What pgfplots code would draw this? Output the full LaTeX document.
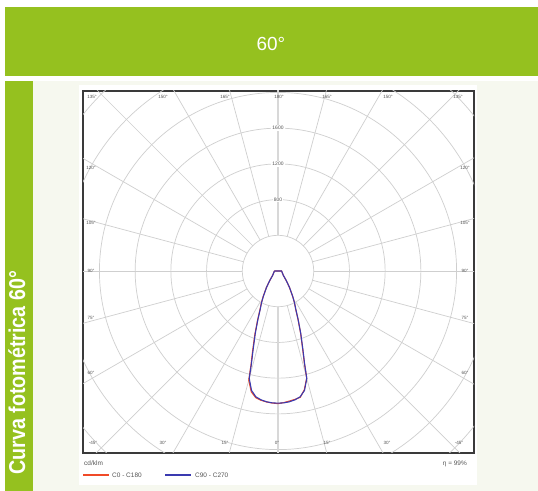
\documentclass[border=0pt]{standalone}
\usepackage{fontspec}
\setmainfont{Liberation Sans}
\usepackage{pgfplots}
\usepackage{pgfplotstable}
\pgfplotsset{compat=1.18}

\definecolor{bannergreen}{HTML}{95C11F}
\definecolor{panelbg}{HTML}{F6F8EF}
\definecolor{boxgray}{HTML}{3A3A3A}
\definecolor{gridgray}{HTML}{CFCFCF}
\definecolor{labelgray}{HTML}{555555}
\definecolor{redc}{HTML}{F04A28}
\definecolor{bluec}{HTML}{3A3AB0}

% angle from nadir (deg), intensity in cd/klm
\pgfplotstableread{
a      red    blue
-90    40     40
-80    44     44
-70    50     50
-60    61     60
-50    81     80
-45    106    105
-40    152    150
-35    228    225
-30    335    330
-27.5  405    400
-25    478    470
-22.5  600    590
-20    760    745
-17.5  950    930
-16    1100   1080
-15    1265   1245
-12.5  1385   1370
-10    1440   1430
-7.5   1460   1455
-5     1472   1470
-2.5   1480   1478
0      1485   1480
2.5    1475   1478
5      1462   1470
7.5    1450   1455
10     1436   1430
12.5   1362   1370
15     1240   1245
16     1070   1080
17.5   920    930
20     740    745
22.5   585    590
25     466    470
27.5   398    400
30     328    330
35     223    225
40     149    150
45     104    105
50     80     80
60     60     60
70     50     50
80     44     44
90     40     40
270    40     40
}\photodata

\begin{document}
\begin{tikzpicture}
\useasboundingbox (0,0) rectangle (538bp,491bp);
\fill[white] (0,0) rectangle (538bp,491bp);
\fill[bannergreen] (5bp,415bp) rectangle (538bp,484bp);
\fill[bannergreen] (5bp,0) rectangle (33bp,410bp);
\fill[panelbg] (33bp,0) rectangle (538bp,410bp);
\fill[white] (79bp,6bp) rectangle (477bp,406bp);

\node[white, font=\fontsize{19}{21}\selectfont] at (271bp,447bp) {60°};
\node[white, font=\bfseries\fontsize{23}{25}\selectfont, rotate=90, xscale=0.86, anchor=base west, inner sep=0pt]
  at (25bp,16bp) {Curva fotométrica 60°};

\begin{axis}[
  at={(83bp,38bp)}, anchor=south west,
  width=391bp, height=362bp, scale only axis,
  xmin=-2184, xmax=2195, ymin=-2038, ymax=2016,
  ticks=none,
  axis line style={draw=boxgray, line width=2bp},
]
  \pgfplotsinvokeforeach{400,800,...,2800}{
    \draw[gridgray, line width=0.7bp] (axis cs:0,0) circle[radius=#1];
  }
  \pgfplotsinvokeforeach{0,15,...,345}{
    \draw[gridgray, line width=0.7bp]
      (axis cs:{400*cos(#1)},{400*sin(#1)}) -- (axis cs:{3400*cos(#1)},{3400*sin(#1)});
  }
  \draw[gridgray!80, line width=1.6bp] (axis cs:0,400) -- (axis cs:0,2100);
  \draw[gridgray!80, line width=1.6bp] (axis cs:0,-400) -- (axis cs:0,-2100);
  \foreach \v in {800,1200,1600}{
    \edef\tmp{\noexpand\node[fill=white, inner sep=1bp, text=labelgray,
      font=\noexpand\fontsize{5}{6}\noexpand\selectfont] at (axis cs:0,\v) {\v};}
    \tmp
  }

  \addplot[redc, line width=1.1bp, no markers]
    table[x expr={\thisrow{red}*sin(\thisrow{a})}, y expr={-\thisrow{red}*cos(\thisrow{a})}] {\photodata};
  \addplot[bluec, line width=1.1bp, no markers]
    table[x expr={\thisrow{blue}*sin(\thisrow{a})}, y expr={-\thisrow{blue}*cos(\thisrow{a})}] {\photodata};
\end{axis}

\tikzset{alab/.style={text=labelgray, font=\fontsize{4.6}{5}\selectfont, inner sep=0pt}}
% top row
\node[alab] at (92bp,394bp) {135°};
\node[alab] at (163bp,394bp) {150°};
\node[alab] at (225bp,394bp) {165°};
\node[alab] at (279bp,394bp) {180°};
\node[alab] at (327bp,394bp) {165°};
\node[alab] at (388bp,394bp) {150°};
\node[alab] at (458bp,394bp) {135°};
% sides
\foreach \yy/\lab in {323/120°,268/105°,220/90°,173/75°,118/60°}{
  \node[alab] at (91bp,\yy bp) {\lab};
  \node[alab] at (465bp,\yy bp) {\lab};
}
% bottom row
\node[alab] at (93bp,48bp) {-45°};
\node[alab] at (163bp,48bp) {30°};
\node[alab] at (225bp,48bp) {15°};
\node[alab] at (277bp,48bp) {0°};
\node[alab] at (327bp,48bp) {15°};
\node[alab] at (387bp,48bp) {30°};
\node[alab] at (459bp,48bp) {-45°};

% legend
\tikzset{leg/.style={text=labelgray, font=\fontsize{6.5}{7}\selectfont, inner sep=0pt, anchor=west}}
\node[leg] at (84bp,28bp) {cd/klm};
\draw[redc, line width=1.2bp] (83bp,16bp) -- (109bp,16bp);
\node[leg] at (112bp,16bp) {C0 - C180};
\draw[bluec, line width=1.2bp] (165bp,16bp) -- (191bp,16bp);
\node[leg] at (195bp,16bp) {C90 - C270};
\node[leg, anchor=east] at (467bp,27bp) {η = 99\%};
\end{tikzpicture}
\end{document}
